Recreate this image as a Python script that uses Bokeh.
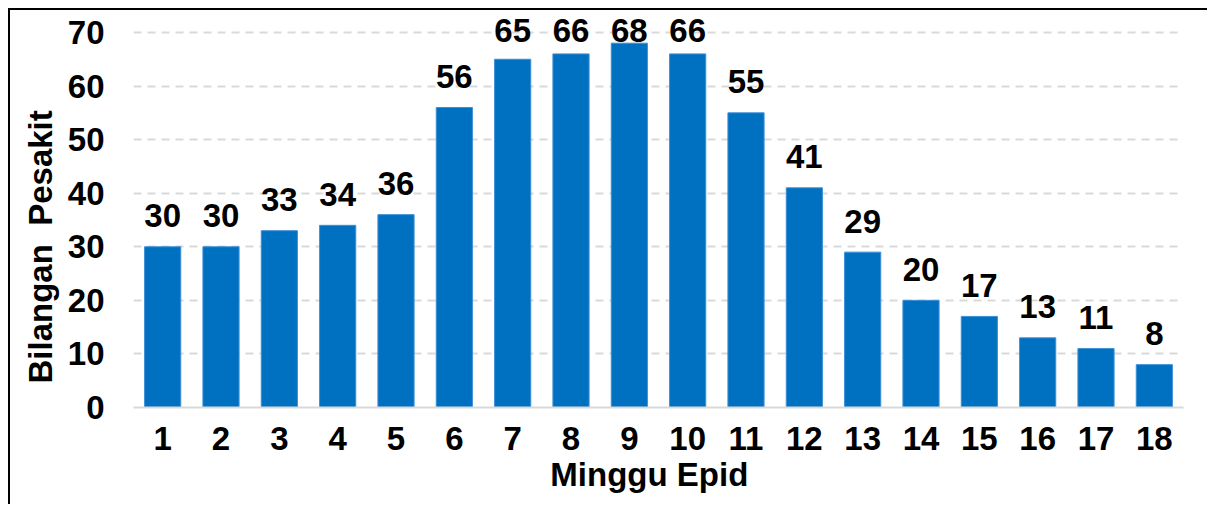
from bokeh.plotting import figure
from bokeh.models import ColumnDataSource, FactorRange, Range1d, FixedTicker, Title
from bokeh.embed import file_html
from bokeh.resources import INLINE
from bokeh.core.properties import value
import numpy as np

weeks = [str(i) for i in range(1, 19)]
patients = [30, 30, 33, 34, 36, 56, 65, 66, 68, 66, 55, 41, 29, 20, 17, 13, 11, 8]
y_ticks = [0, 10, 20, 30, 40, 50, 60, 70]
x_title = "Minggu Epid"
y_title = "Bilangan  Pesakit"

FONT = "Liberation Sans"
FS = "33px"
BLUE = "#0070C0"

p = figure(
    x_range=FactorRange(*weeks, range_padding=0),
    y_range=Range1d(0, 74.1),
    width=1199, height=496,
    output_backend="svg", toolbar_location=None,
    min_border_left=123, min_border_right=26, min_border_top=0, min_border_bottom=99,
)
p.styles = {"margin-left": "8px", "margin-top": "8px",
            "border-left": "2px solid black", "border-top": "2px solid black"}
p.outline_line_color = None
p.background_fill_color = "white"
p.border_fill_color = "white"

# label anchor: 18px above bar top (plus renderer baseline correction), capped at top row
px_per_unit = 397 / 74.1
lab_y = np.minimum(np.array(patients, dtype=float) + 31 / px_per_unit, 70.37)

src = ColumnDataSource(dict(
    x=weeks,
    top=patients,
    ly=lab_y,
    txt=[str(v) for v in patients],
))
p.vbar(x="x", top="top", width=0.62, source=src, fill_color=BLUE, line_color="#3d8fd6", line_width=1)
p.text(x="x", y="ly", text="txt", source=src, text_align="center", text_baseline="alphabetic",
       text_font=value(FONT), text_font_style="bold", text_font_size=FS,
       text_color="black")

# grid
p.xgrid.grid_line_color = None
p.ygrid.ticker = FixedTicker(ticks=y_ticks)
p.ygrid.grid_line_color = "#d9d9d9"
p.ygrid.grid_line_width = 2
p.ygrid.grid_line_dash = "8 6"

# y axis
p.yaxis.ticker = FixedTicker(ticks=y_ticks)
p.yaxis.axis_line_color = None
p.yaxis.major_tick_line_color = None
p.yaxis.minor_tick_line_color = None
p.yaxis.major_tick_out = 0
p.yaxis.major_label_standoff = 29
p.yaxis.major_label_text_font = FONT
p.yaxis.major_label_text_font_style = "bold"
p.yaxis.major_label_text_font_size = FS
p.yaxis.major_label_text_color = "black"

ytitle = Title(text=y_title.replace("  ", "\u00a0 "), align="left", offset=24,
               vertical_align="middle", standoff=10,
               text_font=FONT, text_font_style="bold", text_font_size=FS, text_color="black")
p.add_layout(ytitle, "left")

# x axis
p.xaxis.axis_line_color = "#d9d9d9"
p.xaxis.axis_line_width = 2
p.xaxis.major_tick_line_color = None
p.xaxis.major_tick_out = 0
p.xaxis.major_label_standoff = 19
p.xaxis.major_label_text_font = FONT
p.xaxis.major_label_text_font_style = "bold"
p.xaxis.major_label_text_font_size = FS
p.xaxis.major_label_text_color = "black"
p.xaxis.axis_label = x_title + "\u00a0\u00a0"
p.xaxis.axis_label_standoff = 3
p.xaxis.axis_label_text_font = FONT
p.xaxis.axis_label_text_font_style = "bold"
p.xaxis.axis_label_text_font_size = FS
p.xaxis.axis_label_text_color = "black"

open("out.html", "w").write(file_html(p, INLINE))
